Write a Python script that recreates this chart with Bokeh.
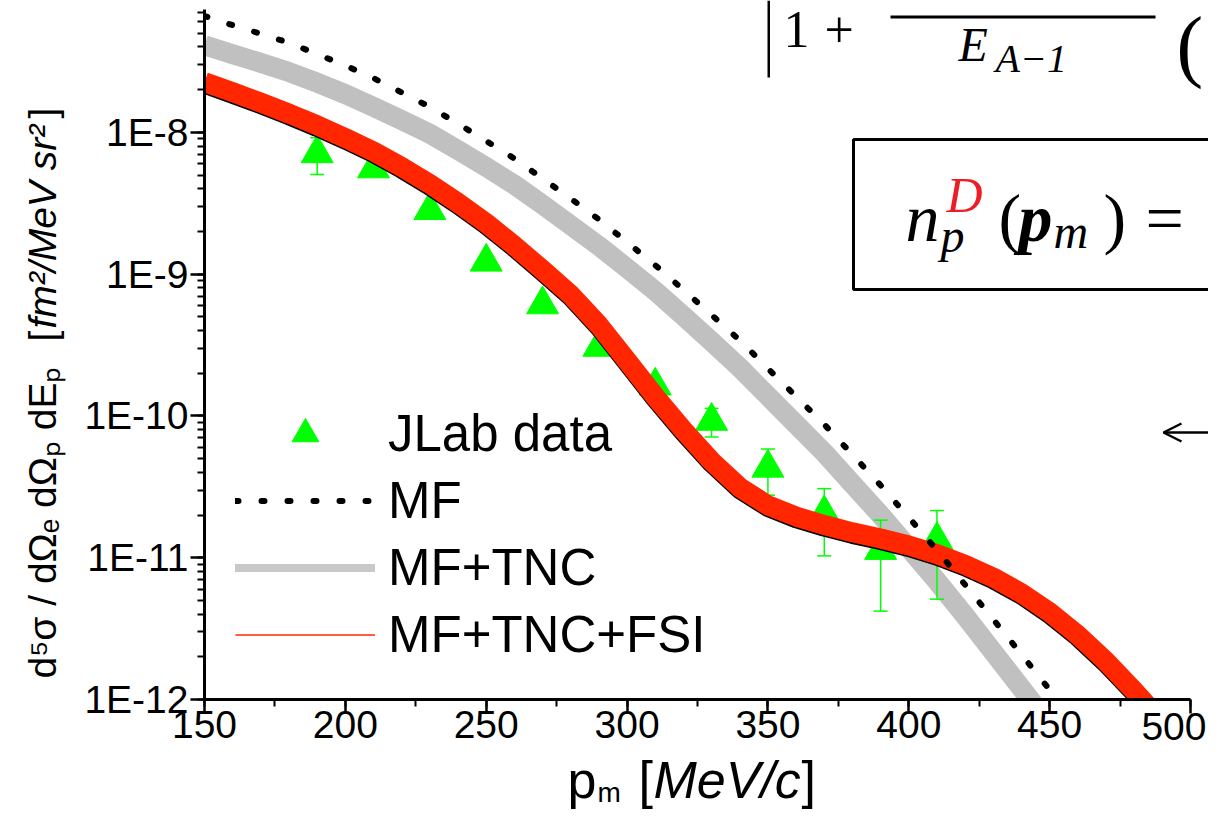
from math import pi, log10
from bokeh.plotting import figure
from bokeh.models import (Range1d, LogTicker, SingleIntervalTicker, CustomJSTickFormatter,
                          ColumnDataSource, Legend, LegendItem, Label, BoxAnnotation, Arrow,
                          OpenHead, LinearAxis, LogAxis, Grid)
from bokeh.embed import file_html
from bokeh.resources import INLINE

# ---------------- data ----------------
jlab_pm = [190, 210, 230, 250, 270, 290, 310, 330, 350, 370, 390, 410]
jlab_val = [7.1e-9, 5.55e-9, 2.82e-9, 1.22e-9, 6.1e-10, 3.06e-10, 1.63e-10,
            9.2e-11, 4.3e-11, 2.05e-11, 1.13e-11, 1.33e-11]
jlab_err = [2.05e-9, 4.4e-10, 2.5e-10, 1.1e-10, 5.5e-11, 2.8e-11, 1.5e-11,
            2.1e-11, 1.54e-11, 1.02e-11, 7.1e-12, 8.2e-12]

mf_pm = [150, 160, 170, 180, 190, 200, 210, 220, 230, 240, 250, 260, 270, 280, 290, 300,
         310, 320, 330, 340, 350, 360, 370, 380, 390, 400, 410, 420, 430, 440, 450, 455]
mf_val = [6.61e-8, 5.70e-8, 4.95e-8, 4.28e-8, 3.56e-8, 2.96e-8, 2.41e-8, 1.91e-8, 1.51e-8,
          1.15e-8, 8.69e-9, 6.53e-9, 4.72e-9, 3.41e-9, 2.43e-9, 1.68e-9, 1.156e-9, 7.76e-10,
          5.15e-10, 3.42e-10, 2.16e-10, 1.37e-10, 8.71e-11, 5.33e-11, 3.24e-11, 1.92e-11,
          1.13e-11, 6.44e-12, 3.67e-12, 2.08e-12, 1.17e-12, 8.7e-13]

tnc_pm = [150, 160, 170, 180, 190, 200, 210, 220, 230, 240, 250, 260, 270, 280, 290, 300,
          310, 320, 330, 340, 350, 360, 370, 380, 390, 400, 410, 420, 430, 440, 445]
tnc_val = [4.12e-8, 3.55e-8, 3.09e-8, 2.66e-8, 2.24e-8, 1.86e-8, 1.51e-8, 1.22e-8, 9.77e-9,
           7.50e-9, 5.69e-9, 4.27e-9, 3.09e-9, 2.21e-9, 1.58e-9, 1.10e-9, 7.59e-10, 5.07e-10,
           3.35e-10, 2.19e-10, 1.38e-10, 8.71e-11, 5.50e-11, 3.31e-11, 2.00e-11, 1.17e-11,
           6.84e-12, 3.89e-12, 2.16e-12, 1.20e-12, 8.9e-13]

fsi_pm = [150, 160, 170, 180, 190, 200, 210, 220, 230, 240, 250, 260, 270, 280, 290, 300,
          310, 320, 330, 340, 350, 360, 370, 380, 390, 400, 410, 420, 430, 440, 450, 460,
          470, 480, 490]
fsi_val = [2.26e-8, 1.92e-8, 1.62e-8, 1.355e-8, 1.12e-8, 9.12e-9, 7.33e-9, 5.69e-9, 4.32e-9,
           3.18e-9, 2.29e-9, 1.585e-9, 1.07e-9, 7.16e-10, 4.37e-10, 2.45e-10, 1.365e-10,
           7.94e-11, 4.79e-11, 3.13e-11, 2.34e-11, 1.95e-11, 1.70e-11, 1.51e-11, 1.365e-11,
           1.22e-11, 1.06e-11, 8.91e-12, 7.24e-12, 5.62e-12, 4.12e-12, 2.85e-12, 1.86e-12,
           1.15e-12, 6.92e-13]

legend_labels = ["JLab data", "MF", "MF+TNC", "MF+TNC+FSI"]

GREEN = "#00ff00"
RED = "#ff2600"
GRAY = "#c0c0c0"

# ---------------- layout: canvas px <-> axis area ----------------
CW, CH = 1208, 809
PX_L, PX_R, PX_T, PX_B = 204, 1190, 9, 699          # axis box inside the canvas
X_LO, X_HI = 150, 500
Y_LO, Y_HI = 1e-12, 7.35e-8
xs = (X_HI - X_LO) / (PX_R - PX_L)
ly = (log10(Y_HI) - log10(Y_LO)) / (PX_B - PX_T)
x_start, x_end = X_LO - PX_L * xs, X_HI + (CW - PX_R) * xs
y_start = 10 ** (log10(Y_LO) - (CH - PX_B) * ly)
y_end = 10 ** (log10(Y_HI) + PX_T * ly)

p = figure(width=CW, height=CH, x_range=Range1d(x_start, x_end), y_range=Range1d(y_start, y_end),
           y_axis_type="log", x_axis_location=None, y_axis_location=None,
           output_backend="svg", toolbar_location=None,
           min_border_left=0, min_border_right=0, min_border_top=0, min_border_bottom=0)
p.outline_line_color = None
p.background_fill_color = "white"
p.border_fill_color = "white"
for r in list(p.center) + list(p.renderers):
    if isinstance(r, Grid):
        r.visible = False

# ---------------- curves & data ----------------
src = ColumnDataSource(dict(
    pm=jlab_pm, val=jlab_val,
    hi=[v + e for v, e in zip(jlab_val, jlab_err)],
    lo=[v - e for v, e in zip(jlab_val, jlab_err)],
))

p.line(tnc_pm, tnc_val, line_color=GRAY, line_width=20, line_join="round")
p.segment(x0="pm", y0="lo", x1="pm", y1="hi", source=src, line_color=GREEN, line_width=1.5)
p.scatter(x="pm", y="hi", marker="dash", size=14, source=src, line_color=GREEN, line_width=1.5)
p.scatter(x="pm", y="lo", marker="dash", size=14, source=src, line_color=GREEN, line_width=1.5)
tri = p.scatter(x="pm", y="val", marker="triangle", size=32, source=src,
                fill_color=GREEN, line_color=GREEN)
# thin dark rim on the lower side of the red band
p.line(fsi_pm, [v * 0.975 for v in fsi_val], line_color="black", line_width=20, line_join="round")
p.line(fsi_pm, fsi_val, line_color=RED, line_width=20, line_join="round")
mf_r = p.line(mf_pm, mf_val, line_color="black", line_width=6, line_dash="3 23", line_cap="round")

# white masks outside the axis box (curves end below the x axis)
p.quad(left=[x_start], right=[X_LO], top=[y_end], bottom=[y_start],
       fill_color="white", line_color=None)
p.quad(left=[x_start], right=[x_end], top=[Y_LO], bottom=[y_start],
       fill_color="white", line_color=None)

# legend-only renderers (legend styling differs from the bands)
nan = float("nan")
leg_tnc = p.line([nan], [nan], line_color="#c8c8c8", line_width=8, line_cap="round")
leg_fsi = p.line([nan], [nan], line_color=RED, line_width=1.5)

# ---------------- axes ----------------
xaxis = LinearAxis(fixed_location=Y_LO, bounds=(X_LO, X_HI),
                   ticker=SingleIntervalTicker(interval=50, num_minor_ticks=2),
                   formatter=CustomJSTickFormatter(code='return tick >= 500 ? "" : tick.toFixed(0);'))
yaxis = LogAxis(fixed_location=X_LO, bounds=(Y_LO, Y_HI), ticker=LogTicker(num_minor_ticks=10),
                formatter=CustomJSTickFormatter(code='return "1E" + Math.round(Math.log10(tick));'))
for ax in (xaxis, yaxis):
    ax.axis_line_width = 3
    ax.axis_line_color = "black"
    ax.major_tick_line_width = 2.5
    ax.minor_tick_line_width = 2
    ax.major_tick_line_color = "black"
    ax.minor_tick_line_color = "black"
    ax.major_tick_in = 0
    ax.major_tick_out = 14
    ax.minor_tick_in = 0
    ax.minor_tick_out = 7
    ax.major_label_text_font = "Liberation Sans"
    ax.major_label_text_font_size = "39px"
    ax.major_label_text_color = "black"
xaxis.major_label_standoff = -3
yaxis.major_label_standoff = 2
p.add_layout(xaxis, "below")
p.add_layout(yaxis, "left")

legend = Legend(
    items=[LegendItem(label=legend_labels[0], renderers=[tri]),
           LegendItem(label=legend_labels[1], renderers=[mf_r]),
           LegendItem(label=legend_labels[2], renderers=[leg_tnc]),
           LegendItem(label=legend_labels[3], renderers=[leg_fsi])],
    location=(225, CH - 677.5), glyph_width=140, glyph_height=67, label_height=67, spacing=0,
    padding=10, margin=0, label_standoff=13, label_text_font="Liberation Sans",
    label_text_font_size="51px", label_text_color="black",
    background_fill_alpha=0, border_line_alpha=0)
p.add_layout(legend)


# ---------------- texts (canvas px from top-left; (x, y) = start of the baseline) ----------------
MID = 0.345   # distance from the em-box middle to the baseline, in em


def lab(x, y, text, size, font="Liberation Sans", style="normal", color="black", angle=0.0,
        align="left"):
    if angle:
        x = x - MID * size
    else:
        y = y - MID * size
    p.add_layout(Label(x=x, y=CH - y, x_units="screen", y_units="screen", text=text,
                       text_font=font, text_font_size=f"{size}px", text_font_style=style,
                       text_color=color, angle=angle, text_align=align,
                       text_baseline="middle"))


def box(x0, x1, y0, y1, fill=None, lw=0):
    p.add_layout(BoxAnnotation(left=x0, right=x1, top=CH - y0, bottom=CH - y1,
                               left_units="screen", right_units="screen",
                               top_units="screen", bottom_units="screen",
                               fill_color=fill if fill else "white", fill_alpha=1 if fill else 0,
                               line_color="black", line_width=lw, line_alpha=1 if lw else 0))


# last x tick label, kept inside the canvas
p.add_layout(Label(x=1206, y=CH - 712, x_units="screen", y_units="screen", text="500",
                   text_font="Liberation Sans", text_font_size="39px", text_color="black",
                   text_align="right", text_baseline="top"))

# y-axis title (rotated, reading upwards)
lab(55, 678, "d⁵σ / dΩₑ dΩₚ dEₚ", 39, angle=pi / 2)
lab(55, 341, "[", 39, angle=pi / 2)
lab(55, 328, "fm²/MeV sr²", 39, style="italic", angle=pi / 2)
lab(55, 118, "]", 39, angle=pi / 2)

# x-axis title
lab(567, 797, "p", 52)
lab(597, 802, "m", 28)
lab(638, 797, "[", 52)
lab(653, 797, "MeV/c", 52, style="italic")
lab(801, 797, "]", 52)

# formula fragments at the right
SERIF = "Liberation Serif"
box(767, 769.5, 0, 77, fill="black")
lab(783, 47, "1", 52, font=SERIF)
lab(824, 47, "+", 52, font=SERIF)
box(890, 1155, 15, 18, fill="black")
lab(958, 61, "E", 48, font=SERIF, style="italic")
lab(995, 72, "A−1", 40, font=SERIF, style="italic")
lab(1176, 72, "(", 80, font=SERIF)

box(853, 1240, 139, 289, lw=3)
lab(905, 241, "n", 68, font=SERIF, style="italic")
lab(940, 252, "p", 48, font=SERIF, style="italic")
lab(946, 212, "D", 50, font=SERIF, style="italic", color="#ee1c25")
lab(998, 241, "(", 68, font=SERIF)
lab(1018, 241, "p", 68, font=SERIF, style="bold italic")
lab(1053, 248, "m", 48, font=SERIF, style="italic")
lab(1103, 241, ")", 68, font=SERIF)
lab(1145, 241, "=", 68, font=SERIF)

p.add_layout(Arrow(x_start=1230, y_start=CH - 432, x_end=1163, y_end=CH - 432,
                   start_units="screen", end_units="screen", line_width=2.5, line_color="black",
                   end=OpenHead(size=18, line_width=2.5, line_color="black"), start=None))

open("out.html", "w").write(file_html(p, INLINE))
